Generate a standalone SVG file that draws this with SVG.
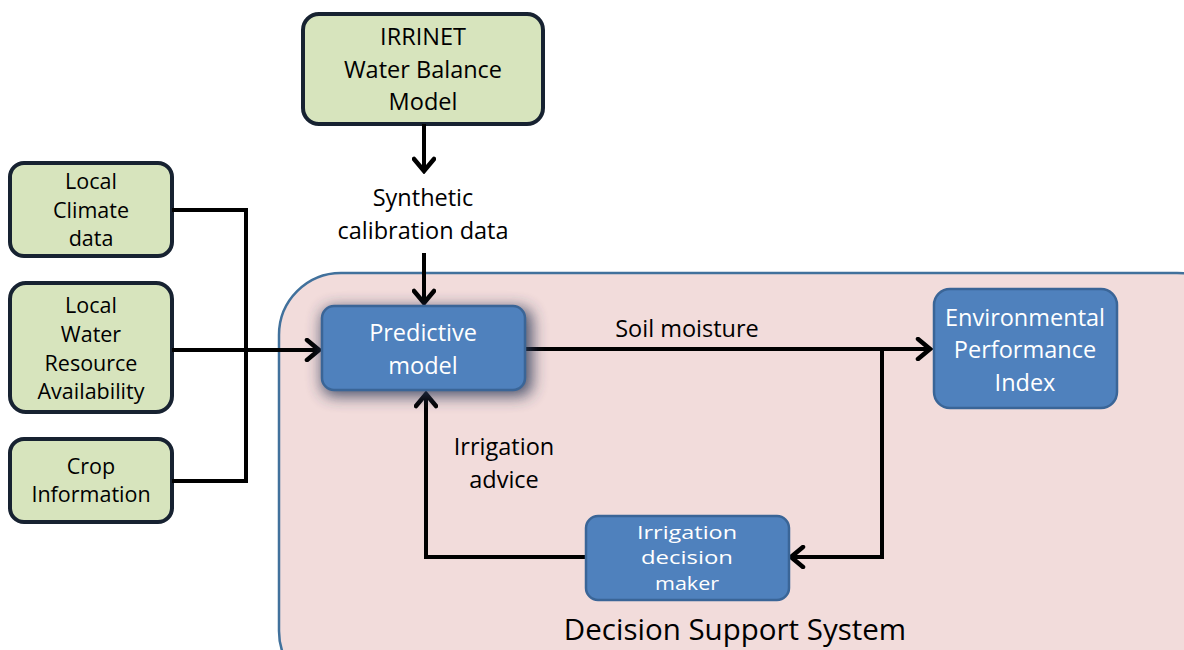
<svg xmlns="http://www.w3.org/2000/svg" width="1184" height="650" viewBox="0 0 1184 650">
<defs>
<style>
.green{fill:#d7e4bd;stroke:#172231;stroke-width:4}
.blue{fill:#4f81bd;stroke:#3a6597;stroke-width:2.5}
.t{font-family:"Open Sans",Lato,sans-serif;font-size:23.5px;text-anchor:middle}
.s{font-size:21.5px}
.n{font-size:18.5px}
.dk{fill:#000}
.wh{fill:#fff}
.ln{fill:none;stroke:#000;stroke-width:4;stroke-linejoin:miter}
</style>
<marker id="ah2" viewBox="0 0 24 24" refX="21" refY="12" markerWidth="24" markerHeight="24" orient="auto" markerUnits="userSpaceOnUse">
<path d="M9,2 L21,12 L9,22" fill="none" stroke="#000" stroke-width="4.5" stroke-linecap="round" stroke-linejoin="miter"/>
</marker>
<filter id="sh" x="-30%" y="-40%" width="160%" height="180%">
<feGaussianBlur stdDeviation="8"/>
</filter>
</defs>
<rect width="1184" height="650" fill="#fff"/>
<g id="dss">
<rect x="279" y="273" width="960" height="420" rx="62" fill="#f2dcdb" stroke="#41719c" stroke-width="2.5"/>
<text x="735" y="640" style="font-family:'Open Sans',Lato,sans-serif;font-size:29.5px;text-anchor:middle" fill="#000">Decision Support System</text>
</g>
<g id="irrinet">
<rect class="green" x="303" y="14" width="240" height="110" rx="16"/>
<text class="t dk" x="423" y="45">IRRINET</text>
<text class="t dk" x="423" y="78">Water Balance</text>
<text class="t dk" x="423" y="110">Model</text>
</g>
<g id="climate">
<rect class="green" x="10" y="163" width="162" height="93" rx="14"/>
<text class="t s dk" x="91" y="189">Local</text>
<text class="t s dk" x="91" y="218">Climate</text>
<text class="t s dk" x="91" y="246">data</text>
</g>
<g id="water">
<rect class="green" x="10" y="283" width="162" height="129" rx="16"/>
<text class="t s dk" x="91" y="313">Local</text>
<text class="t s dk" x="91" y="342">Water</text>
<text class="t s dk" x="91" y="371">Resource</text>
<text class="t s dk" x="91" y="399">Availability</text>
</g>
<g id="crop">
<rect class="green" x="10" y="439" width="162" height="83" rx="14"/>
<text class="t s dk" x="91" y="474">Crop</text>
<text class="t s dk" x="91" y="502">Information</text>
</g>
<g id="connectors">
<polyline class="ln" points="172,210 246,210 246,481 172,481"/>
<line class="ln" x1="172" y1="350" x2="319" y2="350" marker-end="url(#ah2)"/>
<line class="ln" x1="424" y1="124" x2="424" y2="171" marker-end="url(#ah2)"/>
<line class="ln" x1="424" y1="253" x2="424" y2="303" marker-end="url(#ah2)"/>
<line class="ln" x1="525" y1="349" x2="930" y2="349" marker-end="url(#ah2)"/>
<polyline class="ln" points="882,349 882,557 791,557" marker-end="url(#ah2)"/>
<polyline class="ln" points="586,557 426,557 426,394" marker-end="url(#ah2)"/>
</g>
<g id="labels">
<text class="t dk" x="423" y="206">Synthetic</text>
<text class="t dk" x="423" y="239">calibration data</text>
<text class="t dk" x="687" y="337">Soil moisture</text>
<text class="t dk" x="504" y="455">Irrigation</text>
<text class="t dk" x="504" y="488">advice</text>
</g>
<g id="predictive">
<rect x="322" y="308" width="210" height="88" rx="12" fill="#2a3756" opacity="0.85" filter="url(#sh)"/>
<rect class="blue" x="322" y="306" width="203" height="84" rx="12"/>
<text class="t wh" x="423" y="341">Predictive</text>
<text class="t wh" x="423" y="374">model</text>
</g>
<g id="epi">
<rect class="blue" x="934" y="289" width="183" height="119" rx="16"/>
<text class="t wh" x="1025" y="326">Environmental</text>
<text class="t wh" x="1025" y="358">Performance</text>
<text class="t wh" x="1025" y="391">Index</text>
</g>
<g id="idm">
<rect class="blue" x="586" y="516" width="203" height="84" rx="12"/>
<text class="t n wh" x="687" y="539" textLength="100" lengthAdjust="spacingAndGlyphs">Irrigation</text>
<text class="t n wh" x="687" y="564" textLength="92" lengthAdjust="spacingAndGlyphs">decision</text>
<text class="t n wh" x="687" y="590" textLength="64" lengthAdjust="spacingAndGlyphs">maker</text>
</g>
</svg>
